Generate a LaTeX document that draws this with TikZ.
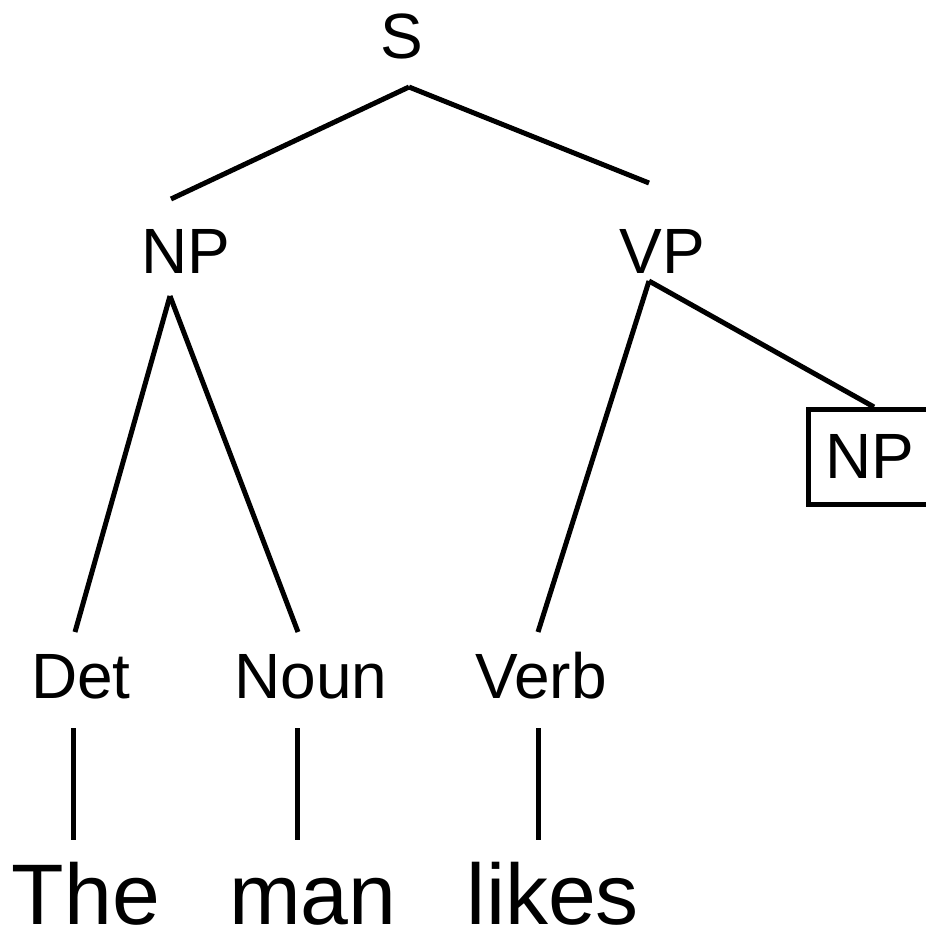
\documentclass[tikz,border=0pt]{standalone}
\usepackage{fontspec}
\setmainfont{Liberation Sans}
\begin{document}
\begin{tikzpicture}[x=1pt,y=-1pt,
  lbl/.style={anchor=base,inner sep=0pt,font=\fontsize{64}{70}\selectfont},
  word/.style={anchor=base,inner sep=0pt,font=\fontsize{86}{92}\selectfont},
  edge/.style={line width=5pt},
  boxed/.style={draw,line width=5pt,minimum width=124pt,minimum height=95pt,inner sep=0pt,font=\fontsize{64}{70}\selectfont}]
\useasboundingbox (0,0) rectangle (926,930);
\clip (0,0) rectangle (926,930);
% labels
\node[lbl] (S) at (402,58) {S};
\node[lbl] (NP) at (186,273) {NP};
\node[lbl] (VP) at (662,273) {VP};
\node[boxed] (NPb) at (870,456.5) {NP};
\node[lbl] (Det) at (81,698) {Det};
\node[lbl] (Noun) at (311,698) {Noun};
\node[lbl] (Verb) at (541,698) {Verb};
\node[word] (The) at (86,924) {The};
\node[word] (man) at (313,924) {man};
\node[word] (likes) at (553,924) {likes};
% connector end points
\coordinate (S-b) at (409,87);
\coordinate (NP-t) at (171,199);
\coordinate (VP-t) at (649,183);
\coordinate (NP-b) at (170,296);
\coordinate (VP-b) at (649,281);
\coordinate (Det-t) at (75,632);
\coordinate (Noun-t) at (298,632);
\coordinate (Verb-t) at (538,632);
\coordinate (NPb-t) at (874,407);
\coordinate (Det-b) at (73,728);
\coordinate (The-t) at (73,840);
\coordinate (Noun-b) at (297,728);
\coordinate (man-t) at (297,840);
\coordinate (Verb-b) at (538,728);
\coordinate (likes-t) at (538,840);
% connectors
\draw[edge] (S-b) -- (NP-t);
\draw[edge] (S-b) -- (VP-t);
\draw[edge] (NP-b) -- (Det-t);
\draw[edge] (NP-b) -- (Noun-t);
\draw[edge] (VP-b) -- (Verb-t);
\draw[edge] (VP-b) -- (NPb-t);
\draw[edge] (Det-b) -- (The-t);
\draw[edge] (Noun-b) -- (man-t);
\draw[edge] (Verb-b) -- (likes-t);
\end{tikzpicture}
\end{document}
